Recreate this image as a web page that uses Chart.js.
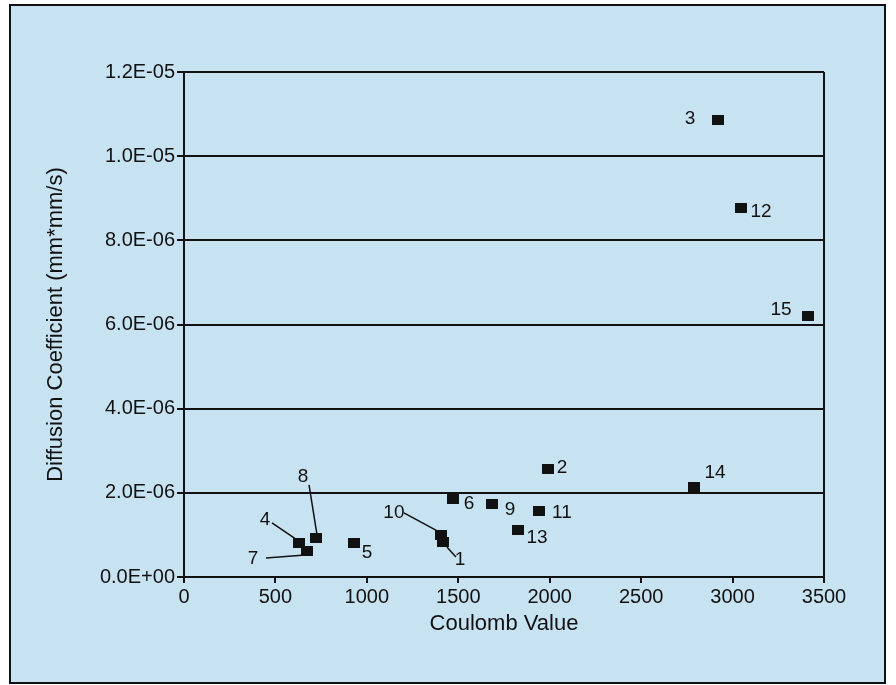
<!DOCTYPE html>
<html>
<head>
<meta charset="utf-8">
<title>Diffusion Coefficient vs Coulomb Value</title>
<script src="https://cdn.jsdelivr.net/npm/chart.js@4/dist/chart.umd.min.js"></script>
<style>
  html, body { margin: 0; padding: 0; background: #fff; }
  #wrap { width: 896px; height: 685px; }
</style>
</head>
<body>
<div id="wrap"><canvas id="grafico" width="896" height="685"></canvas></div>
<script>
// sample numbers and measured values
const amostras = ['1', '2', '3', '4', '5', '6', '7', '8', '9', '10', '11', '12', '13', '14', '15'];
const coulomb = [1416, 1991, 2920, 629, 930, 1471, 673, 722, 1684, 1405, 1941, 3046, 1827, 2789, 3413];
const difusao = [8.3e-7, 2.57e-6, 1.086e-5, 8.1e-7, 8.1e-7, 1.85e-6, 6.2e-7, 9.3e-7, 1.73e-6, 1.0e-6, 1.57e-6, 8.77e-6, 1.12e-6, 2.14e-6, 6.2e-6];

// axis ticks
const ticksX = [0, 500, 1000, 1500, 2000, 2500, 3000, 3500];
const ticksY = [0, 2e-6, 4e-6, 6e-6, 8e-6, 1e-5, 1.2e-5];

// label placement (pixels from the marker) and leader lines
const deslocRotulo = [[17, 18], [14, -1], [-28, -1], [-34, -23], [13, 10], [16, 5], [-54, 8], [-13, -61],
  [18, 6], [-47, -22], [23, 2], [20, 4], [19, 8], [21, -14], [-27, -6]];
const linhasGuia = {
  0: [[4, 5], [13, 15]],
  3: [[-27, -20], [-2, -3]],
  6: [[-41, 7], [-2, 4]],
  7: [[-7, -53], [1, -3]],
  9: [[-37, -22], [0, -2]]
};

const azul = '#c7e2f0';
const fonte = '"Liberation Sans", Arial, sans-serif';

// black 12x10 block used as the marker
const marcador = document.createElement('canvas');
marcador.width = 12;
marcador.height = 10;
const mctx = marcador.getContext('2d');
mctx.fillStyle = '#111';
mctx.fillRect(0, 0, 12, 10);

function formatoE(v) {
  if (v === 0) return '0.0E+00';
  const [m, e] = v.toExponential(1).toUpperCase().split('E');
  const n = parseInt(e, 10);
  return m + 'E' + (n < 0 ? '-' : '+') + String(Math.abs(n)).padStart(2, '0');
}

// page frame, plot border and point labels
const moldura = {
  id: 'moldura',
  beforeDraw(chart) {
    const c = chart.ctx;
    c.save();
    c.fillStyle = '#fff';
    c.fillRect(0, 0, chart.width, chart.height);
    c.fillStyle = azul;
    c.fillRect(10, 5, 875, 678);
    c.strokeStyle = '#111';
    c.lineWidth = 2;
    c.strokeRect(10, 5, 875, 678);
    c.restore();
  },
  afterDatasetsDraw(chart) {
    const c = chart.ctx;
    const a = chart.chartArea;
    c.save();
    c.strokeStyle = '#111';
    c.lineWidth = 2;
    c.beginPath();
    c.moveTo(a.right, a.top);
    c.lineTo(a.right, a.bottom);
    c.stroke();

    const pontos = chart.getDatasetMeta(0).data;
    c.font = '19px ' + fonte;
    c.fillStyle = '#111';
    c.textAlign = 'center';
    c.textBaseline = 'middle';
    c.lineWidth = 1.5;
    pontos.forEach((p, i) => {
      const [dx, dy] = deslocRotulo[i];
      c.fillText(amostras[i], p.x + dx, p.y + dy);
      const g = linhasGuia[i];
      if (g) {
        c.beginPath();
        c.moveTo(p.x + g[0][0], p.y + g[0][1]);
        c.lineTo(p.x + g[1][0], p.y + g[1][1]);
        c.stroke();
      }
    });
    c.restore();
  }
};

new Chart(document.getElementById('grafico'), {
  type: 'scatter',
  data: {
    datasets: [{
      data: coulomb.map((x, i) => ({ x: x, y: difusao[i] })),
      pointStyle: marcador,
      pointRadius: 6,
      backgroundColor: '#111',
      borderColor: '#111'
    }]
  },
  options: {
    responsive: false,
    animation: false,
    layout: { padding: { top: 72, right: 72, bottom: 0, left: 0 } },
    plugins: { legend: { display: false }, tooltip: { enabled: false } },
    scales: {
      x: {
        type: 'linear',
        min: 0,
        max: 3500,
        afterBuildTicks: s => { s.ticks = ticksX.map(v => ({ value: v })); },
        afterFit: s => { s.height = 108; },
        border: { display: true, color: '#111', width: 2 },
        grid: { drawOnChartArea: false, drawTicks: true, tickLength: 6, color: '#111', lineWidth: 2 },
        ticks: { color: '#111', font: { family: fonte, size: 20 }, padding: 2, maxRotation: 0, callback: v => String(v) },
        title: { display: true, text: 'Coulomb Value', color: '#111', font: { family: fonte, size: 22 }, padding: { top: 0, bottom: 48 } }
      },
      y: {
        type: 'linear',
        min: 0,
        max: 1.2e-5,
        afterBuildTicks: s => { s.ticks = ticksY.map(v => ({ value: v })); },
        afterFit: s => { s.width = 184; },
        border: { display: true, color: '#111', width: 2 },
        grid: { drawOnChartArea: true, drawTicks: true, tickLength: 7, color: '#111', lineWidth: 2 },
        ticks: { color: '#111', font: { family: fonte, size: 20 }, padding: 2, callback: v => formatoE(v) },
        title: { display: true, text: 'Diffusion Coefficient (mm*mm/s)', color: '#111', font: { family: fonte, size: 22 }, padding: { top: 43, bottom: 0 } }
      }
    }
  },
  plugins: [moldura]
});
</script>
</body>
</html>
